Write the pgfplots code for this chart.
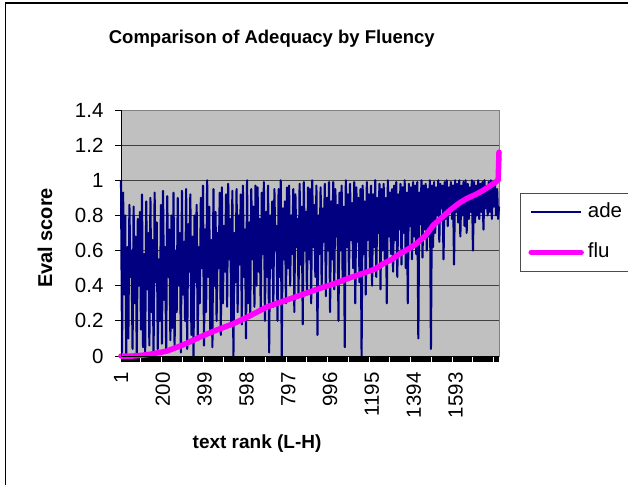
\documentclass[border=0pt]{standalone}
\usepackage{pgfplots}
\pgfplotsset{compat=1.18}
\usepackage{fontspec}
\setmainfont{Liberation Sans}
\definecolor{navy}{HTML}{000080}
\definecolor{plotgray}{HTML}{C0C0C0}
\definecolor{magentaline}{HTML}{FF00FF}
\newcommand{\tickfont}{\fontsize{20.5bp}{23bp}\selectfont}
\newcommand{\labfont}{\bfseries\fontsize{19bp}{22bp}\selectfont}
\begin{document}
\begin{tikzpicture}[x=1bp,y=1bp]
\path[use as bounding box] (0,0) rectangle (628,-485);
\draw[line width=1.3bp] (5.5,-3) rectangle (700,-600);
\begin{axis}[
  at={(121bp,-356bp)}, anchor=south west,
  scale only axis, width=378bp, height=246bp,
  xmin=1, xmax=1800, ymin=0, ymax=1.4,
  clip=false,
  axis background/.style={fill=plotgray},
  axis line style={black!50, line width=1bp},
  ytick={0,0.2,0.4,0.6,0.8,1,1.2,1.4},
  yticklabels={0,0.2,0.4,0.6,0.8,1,1.2,1.4},
  xtick={1,200,399,598,797,996,1195,1394,1593},
  xticklabels={1,200,399,598,797,996,1195,1394,1593},
  minor xtick={1,6,...,1800},
  xtick pos=lower, ytick pos=left,
  tick align=outside,
  major tick length=6bp, minor tick length=6bp,
  tick style={black, line width=0.9bp},
  minor tick style={black, line width=0.9bp},
  ymajorgrids,
  major grid style={black!75, line width=0.8bp},
  xticklabel style={yshift=-7bp, rotate=90, anchor=east, font=\tickfont},
  yticklabel style={xshift=-8bp, font=\tickfont},
  title={Comparison of Adequacy by Fluency},
  title style={at={(axis description cs:0.399,1.293)}, anchor=center, yshift=-7bp, font=\bfseries\fontsize{18.5bp}{22bp}\selectfont},
  xlabel={text rank (L-H)},
  xlabel style={at={(axis description cs:0.36,-0.354)}, anchor=center, font=\labfont},
  ylabel={Eval score},
  ylabel style={at={(axis description cs:-0.201,0.48)}, anchor=center, font=\bfseries\fontsize{20bp}{22bp}\selectfont},
  legend style={at={(axis description cs:1.0556,0.6626)}, anchor=north west,
    draw=black!70, line width=0.8bp, fill=white, font=\tickfont,
    inner xsep=8bp, inner ysep=10bp, row sep=22bp, column sep=4bp,
    nodes={inner sep=0pt, text height=14bp, text depth=4bp}},
  legend cell align=left,
  legend image code/.code={\draw[#1] (0bp,0bp) -- (50bp,0bp);},
]
\addplot[navy, line width=2.1bp, line join=round] coordinates {
(1,1.00)(6,0.02)(11,0.93)(16,0.35)(21,0.80)(26,0.00)(31,0.62)(36,0.10)(41,0.86)(46,0.45)
(51,0.60)(56,0.04)(61,0.85)(66,0.30)(71,0.68)(76,0.00)(81,0.78)(86,0.40)(91,0.82)(96,0.15)
(101,0.92)(106,0.05)(111,0.58)(116,0.02)(121,0.88)(126,0.38)(131,0.70)(136,0.06)(141,0.90)(146,0.25)
(151,0.66)(156,0.00)(161,0.93)(166,0.42)(171,0.76)(176,0.04)(181,0.55)(186,0.20)(191,0.86)(196,0.07)
(201,0.94)(206,0.32)(211,0.62)(216,0.03)(221,0.91)(226,0.45)(231,0.72)(236,0.09)(241,0.80)(246,0.16)
(251,0.93)(256,0.05)(261,0.60)(266,0.25)(271,0.90)(276,0.40)(281,0.70)(286,0.02)(291,0.94)(296,0.35)
(301,0.65)(306,0.20)(311,0.95)(316,0.04)(321,0.75)(326,0.48)(331,0.92)(336,0.12)(341,0.68)(346,0.00)
(351,0.80)(356,0.42)(361,0.86)(366,0.10)(371,0.62)(376,0.30)(381,0.90)(386,0.50)(391,0.97)(396,0.06)
(401,0.72)(406,0.25)(411,1.00)(416,0.45)(421,0.85)(426,0.15)(431,0.66)(436,0.05)(441,0.95)(446,0.40)
(451,0.82)(456,0.20)(461,0.70)(466,0.50)(471,0.93)(476,0.12)(481,0.96)(486,0.30)(491,0.74)(496,0.48)
(501,0.92)(506,0.28)(511,0.98)(516,0.55)(521,0.78)(526,0.18)(531,0.94)(536,0.00)(541,0.70)(546,0.42)
(551,0.95)(556,0.25)(561,0.80)(566,0.52)(571,0.92)(576,0.18)(581,0.97)(586,0.45)(591,0.72)(596,0.10)
(601,1.00)(606,0.30)(611,0.76)(616,0.22)(621,0.95)(626,0.55)(631,0.85)(636,0.28)(641,0.97)(646,0.40)
(651,0.96)(656,0.48)(661,0.78)(666,0.25)(671,0.93)(676,0.58)(681,0.99)(686,0.20)(691,0.82)(696,0.45)
(701,0.97)(706,0.02)(711,0.80)(716,0.50)(721,0.88)(726,0.28)(731,0.95)(736,0.60)(741,0.74)(746,0.20)
(751,0.95)(756,0.45)(761,1.00)(766,0.00)(771,0.84)(776,0.55)(781,0.88)(786,0.30)(791,0.96)(796,0.50)
(801,0.97)(806,0.40)(811,0.80)(816,0.58)(821,0.95)(826,0.25)(831,0.92)(836,0.62)(841,0.78)(846,0.35)
(851,0.98)(856,0.52)(861,0.85)(866,0.18)(871,0.99)(876,0.60)(881,0.82)(886,0.35)(891,0.96)(896,0.55)
(901,0.95)(906,0.30)(911,1.00)(916,0.62)(921,0.86)(926,0.45)(931,0.97)(936,0.12)(941,0.80)(946,0.58)
(951,0.96)(956,0.40)(961,0.84)(966,0.65)(971,0.98)(976,0.34)(981,0.90)(986,0.60)(991,0.99)(996,0.25)
(1001,0.88)(1006,0.55)(1011,0.99)(1016,0.38)(1021,0.95)(1026,0.68)(1031,0.86)(1036,0.20)(1041,0.93)(1046,0.60)
(1051,0.97)(1056,0.42)(1061,0.85)(1066,0.05)(1071,1.00)(1076,0.62)(1081,0.92)(1086,0.45)(1091,0.98)(1096,0.66)
(1101,0.87)(1106,0.50)(1111,0.99)(1116,0.30)(1121,0.96)(1126,0.65)(1131,0.90)(1136,0.42)(1141,0.95)(1146,0.00)
(1151,0.97)(1156,0.58)(1161,0.88)(1166,0.35)(1171,0.99)(1176,0.66)(1181,0.92)(1186,0.48)(1191,0.97)(1196,0.40)
(1201,0.92)(1206,0.62)(1211,1.00)(1216,0.45)(1221,0.90)(1226,0.70)(1231,0.98)(1236,0.38)(1241,0.95)(1246,0.60)
(1251,0.98)(1256,0.55)(1261,0.90)(1266,0.30)(1271,1.00)(1276,0.68)(1281,0.93)(1286,0.58)(1291,0.95)(1296,0.48)
(1301,0.97)(1306,0.66)(1311,0.99)(1316,0.45)(1321,0.92)(1326,0.72)(1331,0.98)(1336,0.52)(1341,0.96)(1346,0.70)
(1351,1.00)(1356,0.50)(1361,0.93)(1366,0.30)(1371,0.98)(1376,0.74)(1381,0.96)(1386,0.55)(1391,0.99)(1396,0.68)
(1401,0.97)(1406,0.58)(1411,0.99)(1416,0.10)(1421,0.93)(1426,0.75)(1431,1.00)(1436,0.56)(1441,0.97)(1446,0.72)
(1451,0.98)(1456,0.60)(1461,0.95)(1466,0.68)(1471,1.00)(1476,0.04)(1481,0.97)(1486,0.62)(1491,0.99)(1496,0.70)
(1501,0.96)(1506,0.80)(1511,1.00)(1516,0.65)(1521,0.98)(1526,0.84)(1531,0.97)(1536,0.55)(1541,0.99)(1546,0.78)
(1551,1.00)(1556,0.74)(1561,0.96)(1566,0.85)(1571,0.99)(1576,0.78)(1581,0.97)(1586,0.52)(1591,1.00)(1596,0.82)
(1601,0.98)(1606,0.76)(1611,1.00)(1616,0.68)(1621,0.97)(1626,0.80)(1631,0.99)(1636,0.74)(1641,1.00)(1646,0.70)
(1651,0.98)(1656,0.78)(1661,0.96)(1666,0.82)(1671,1.00)(1676,0.60)(1681,0.99)(1686,0.76)(1691,0.97)(1696,0.80)
(1701,1.00)(1706,0.78)(1711,0.98)(1716,0.82)(1721,0.99)(1726,0.72)(1731,1.00)(1736,0.84)(1741,0.96)(1746,0.80)
(1751,0.99)(1756,0.82)(1761,1.00)(1766,0.78)(1771,0.97)(1776,0.85)(1781,0.98)(1786,0.80)(1791,0.95)(1796,0.78)
(1800,0.85)
};
\addlegendentry{ade\hspace{14bp}}
\addplot[magentaline, line width=5.5bp, line cap=round, line join=round] coordinates {
(1,0)(60,0)(100,0.004)(150,0.012)(219,0.028)(300,0.065)(377,0.108)(450,0.145)
(536,0.184)(600,0.22)(695,0.279)(780,0.315)(853,0.345)(930,0.378)(1012,0.41)
(1090,0.445)(1170,0.478)(1210,0.495)(1250,0.526)(1290,0.55)(1329,0.583)(1370,0.61)
(1408,0.64)(1450,0.685)(1487,0.744)(1530,0.79)(1567,0.83)(1610,0.87)(1646,0.896)
(1690,0.92)(1725,0.943)(1760,0.97)(1796,1.0)(1800,1.16)
};
\addlegendentry{flu\hspace{14bp}}
\draw[black, line width=1bp] (rel axis cs:0,1) -- (rel axis cs:0,0) -- (rel axis cs:1,0);
\end{axis}
\end{tikzpicture}
\end{document}
